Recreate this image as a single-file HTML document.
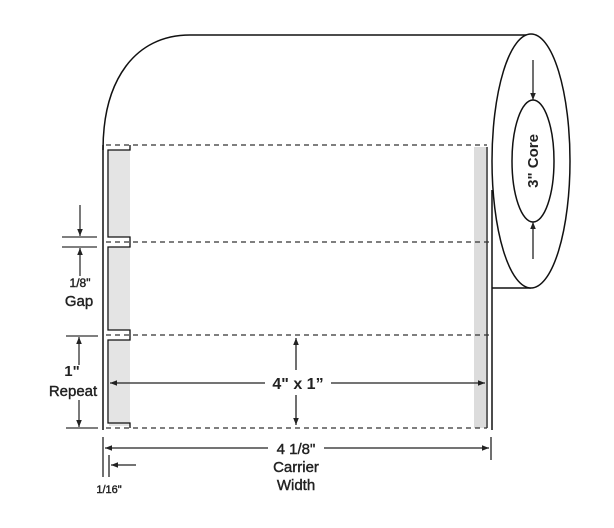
<!DOCTYPE html>
<html><head><meta charset="utf-8"><style>
html,body{margin:0;padding:0;background:#fff;}
svg{display:block;}
text{font-family:"Liberation Sans",sans-serif;fill:#222;}
.m{stroke:#222;stroke-width:0.4;}
</style></head><body>
<svg width="614" height="528" viewBox="0 0 614 528" xmlns="http://www.w3.org/2000/svg">
<defs>
<marker id="a" viewBox="0 0 10 10" refX="10" refY="5" markerWidth="7" markerHeight="7" orient="auto-start-reverse" markerUnits="userSpaceOnUse"><path d="M0,1 L10,5 L0,9 z" fill="#222"/></marker>
</defs>
<path d="M103,150 C103,80 135,35 190,35 L531,35" fill="none" stroke="#111" stroke-width="1.5"/>
<line x1="492" y1="288" x2="531" y2="288" stroke="#111" stroke-width="1.5"/>
<ellipse cx="531" cy="161" rx="39" ry="127" fill="#fff" stroke="#111" stroke-width="1.5"/>
<ellipse cx="533" cy="161" rx="21" ry="61" fill="#fff" stroke="#111" stroke-width="1.5"/>
<line x1="533" y1="60" x2="533" y2="100" stroke="#222" stroke-width="1.3" marker-end="url(#a)"/>
<line x1="533" y1="259" x2="533" y2="222" stroke="#222" stroke-width="1.3" marker-end="url(#a)"/>
<text x="0" y="0" font-size="15" font-weight="bold" text-anchor="middle" transform="translate(538,161) rotate(-90)">3" Core</text>
<line x1="103" y1="145" x2="103" y2="430" stroke="#111" stroke-width="1.5"/>
<line x1="492" y1="190" x2="492" y2="430" stroke="#111" stroke-width="1.5"/>
<rect x="109" y="150" width="21" height="87" fill="#e4e4e4"/>
<rect x="109" y="247" width="21" height="83" fill="#e4e4e4"/>
<rect x="109" y="340" width="21" height="86" fill="#e4e4e4"/>
<rect x="474" y="147" width="12" height="281" fill="#dcdcdc"/>
<line x1="487" y1="147" x2="487" y2="428" stroke="#111" stroke-width="1.3"/>
<path d="M130,145 L130,150 L108,150 L108,237 L130,237 L130,247 L108,247 L108,330 L130,330 L130,340 L108,340 L108,423 L130,423 L130,428" fill="none" stroke="#111" stroke-width="1.3"/>
<g stroke="#333" stroke-width="1.2" stroke-dasharray="5,4">
<line x1="106" y1="145" x2="487" y2="145"/>
<line x1="106" y1="242" x2="492" y2="242"/>
<line x1="106" y1="335" x2="492" y2="335"/>
<line x1="106" y1="428" x2="487" y2="428"/>
</g>
<g stroke="#333" stroke-width="1.3">
<line x1="62" y1="237" x2="97" y2="237"/>
<line x1="62" y1="247" x2="97" y2="247"/>
<line x1="80" y1="205" x2="80" y2="236" marker-end="url(#a)"/>
<line x1="80" y1="276" x2="80" y2="248" marker-end="url(#a)"/>
<line x1="66" y1="336" x2="98" y2="336"/>
<line x1="66" y1="428" x2="98" y2="428"/>
<line x1="79" y1="365" x2="79" y2="337" marker-end="url(#a)"/>
<line x1="79" y1="400" x2="79" y2="427" marker-end="url(#a)"/>
</g>
<text class="m" x="80" y="287" font-size="12" text-anchor="middle">1/8"</text>
<text class="m" x="79" y="306" font-size="15" text-anchor="middle">Gap</text>
<text x="72" y="376" font-size="15" font-weight="bold" text-anchor="middle">1"</text>
<text class="m" x="73" y="396" font-size="15" text-anchor="middle">Repeat</text>
<g stroke="#222" stroke-width="1.3">
<line x1="265" y1="383" x2="110" y2="383" marker-end="url(#a)"/>
<line x1="331" y1="383" x2="485" y2="383" marker-end="url(#a)"/>
<line x1="296" y1="370" x2="296" y2="338" marker-end="url(#a)"/>
<line x1="296" y1="395" x2="296" y2="425" marker-end="url(#a)"/>
</g>
<text x="298" y="389" font-size="16" font-weight="bold" text-anchor="middle">4" x 1”</text>
<g stroke="#222" stroke-width="1.3">
<line x1="103" y1="437" x2="103" y2="477"/>
<line x1="491" y1="437" x2="491" y2="460"/>
<line x1="268" y1="448" x2="105" y2="448" marker-end="url(#a)"/>
<line x1="324" y1="448" x2="489" y2="448" marker-end="url(#a)"/>
<line x1="109" y1="455" x2="109" y2="477"/>
<line x1="136" y1="465" x2="111" y2="465" marker-end="url(#a)"/>
</g>
<text class="m" x="296" y="454" font-size="15" text-anchor="middle">4 1/8"</text>
<text class="m" x="296" y="472" font-size="15" text-anchor="middle">Carrier</text>
<text class="m" x="296" y="490" font-size="15" text-anchor="middle">Width</text>
<text class="m" x="109" y="493" font-size="11" text-anchor="middle">1/16"</text>
</svg>
</body></html>
